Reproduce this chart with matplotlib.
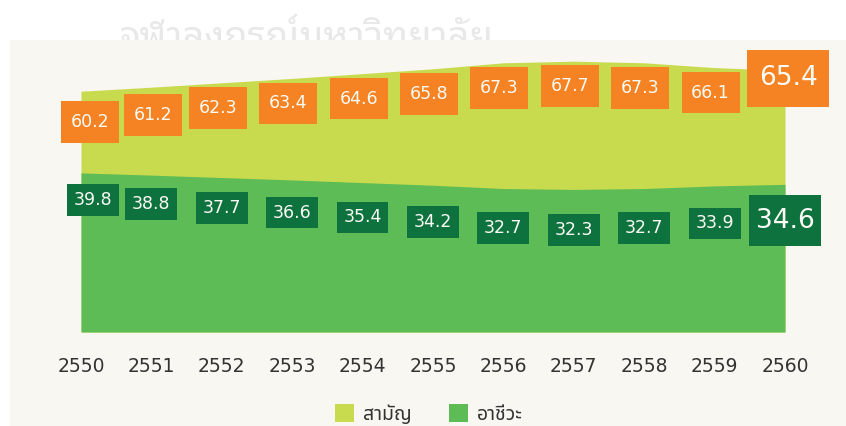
import matplotlib
matplotlib.use('Agg')
import matplotlib.pyplot as plt
from matplotlib.patches import Rectangle, Patch

years = [2550, 2551, 2552, 2553, 2554, 2555, 2556, 2557, 2558, 2559, 2560]
general = [60.2, 61.2, 62.3, 63.4, 64.6, 65.8, 67.3, 67.7, 67.3, 66.1, 65.4]
vocational = [39.8, 38.8, 37.7, 36.6, 35.4, 34.2, 32.7, 32.3, 32.7, 33.9, 34.6]
series_names = ['สามัญ', 'อาชีวะ']
watermark = 'จุฬาลงกรณ์มหาวิทยาลัย'

light_green = '#C8DB4E'
green = '#5DBC55'
orange = '#F58323'
dark_green = '#0E723E'
thai = ['Noto Sans Thai', 'Sarabun', 'DejaVu Sans']
thai_looped = ['Noto Sans Thai Looped', 'Noto Sans Thai', 'DejaVu Sans']

fig = plt.figure(figsize=(8.46, 4.26), dpi=100)
fig.patch.set_facecolor('white')

# beige panel behind the chart, watermark peeking out above it
fig.text(0.363, 0.884, watermark, ha='center', va='baseline', fontsize=27.5,
         fontweight='bold', color='#E8E8E8', family=thai_looped, zorder=0.5)
fig.patches.append(Rectangle((10 / 846, 0), 1, 386 / 426, transform=fig.transFigure,
                             facecolor='#F8F7F1', edgecolor='none', zorder=0.6))

ax1 = fig.add_axes([81 / 846, 94 / 426, 704 / 846, 292 / 426])
ax1.fill_between(years, 0, general, color=light_green, linewidth=0)
ax1.set_xlim(years[0], years[-1])
ax1.set_ylim(0, 73)

# vocational area sits on its own scale
ax2 = ax1.twinx()
ax2.set_ylim(-32.5, 100.2)
ax2.fill_between(years, ax2.get_ylim()[0], vocational, color=green, linewidth=0)

ax1.set_zorder(1)
ax2.set_zorder(2)
ax1.patch.set_visible(False)
ax2.patch.set_visible(False)

for ax in (ax1, ax2):
    for s in ax.spines.values():
        s.set_visible(False)
    ax.set_yticks([])
ax1.set_xticks(years)
ax1.set_xticklabels([str(y) for y in years], fontsize=13.5, color='#333333')
ax1.tick_params(axis='x', length=0, pad=18)

last = len(years) - 1
for i, (yr, g, v) in enumerate(zip(years, general, vocational)):
    big = i == last
    if i == 0:
        dx, dy = 9, -31
    elif i == 1:
        dx, dy = 2, -28
    elif big:
        dx, dy = 3, -8
    else:
        dx, dy = -4, -25
    ax2.annotate(f'{g:.1f}', xy=(yr, g), xycoords=ax1.transData,
                 xytext=(dx, dy), textcoords='offset pixels',
                 ha='center', va='center', color='#FBFBF5',
                 fontsize=19 if big else 12.5,
                 bbox=dict(boxstyle='square,pad=0.44' if big else 'square,pad=0.56',
                           mutation_aspect=1.35 if big else 1.22,
                           facecolor=orange, edgecolor='none'),
                 annotation_clip=False)
    ax2.annotate(f'{v:.1f}', xy=(yr, v), xycoords=ax1.transData,
                 xytext=(12 if i == 0 else 0, -27), textcoords='offset pixels',
                 ha='center', va='center', color='#FBFBF5',
                 fontsize=19 if big else 12.5,
                 bbox=dict(boxstyle='square,pad=0.25' if big else 'square,pad=0.385',
                           mutation_aspect=1.9 if big else 1.03,
                           facecolor=dark_green, edgecolor='none'),
                 annotation_clip=False)

handles = [Patch(facecolor=light_green, edgecolor='none'),
           Patch(facecolor=green, edgecolor='none')]
leg = fig.legend(handles, series_names, loc='center', bbox_to_anchor=(0.507, 0.027),
                 ncol=2, frameon=False, handlelength=1.0, handleheight=1.0,
                 handletextpad=0.45, columnspacing=1.9,
                 prop={'family': thai, 'size': 14})
for t in leg.get_texts():
    t.set_color('#333333')

fig.savefig('out.png', dpi=100)
